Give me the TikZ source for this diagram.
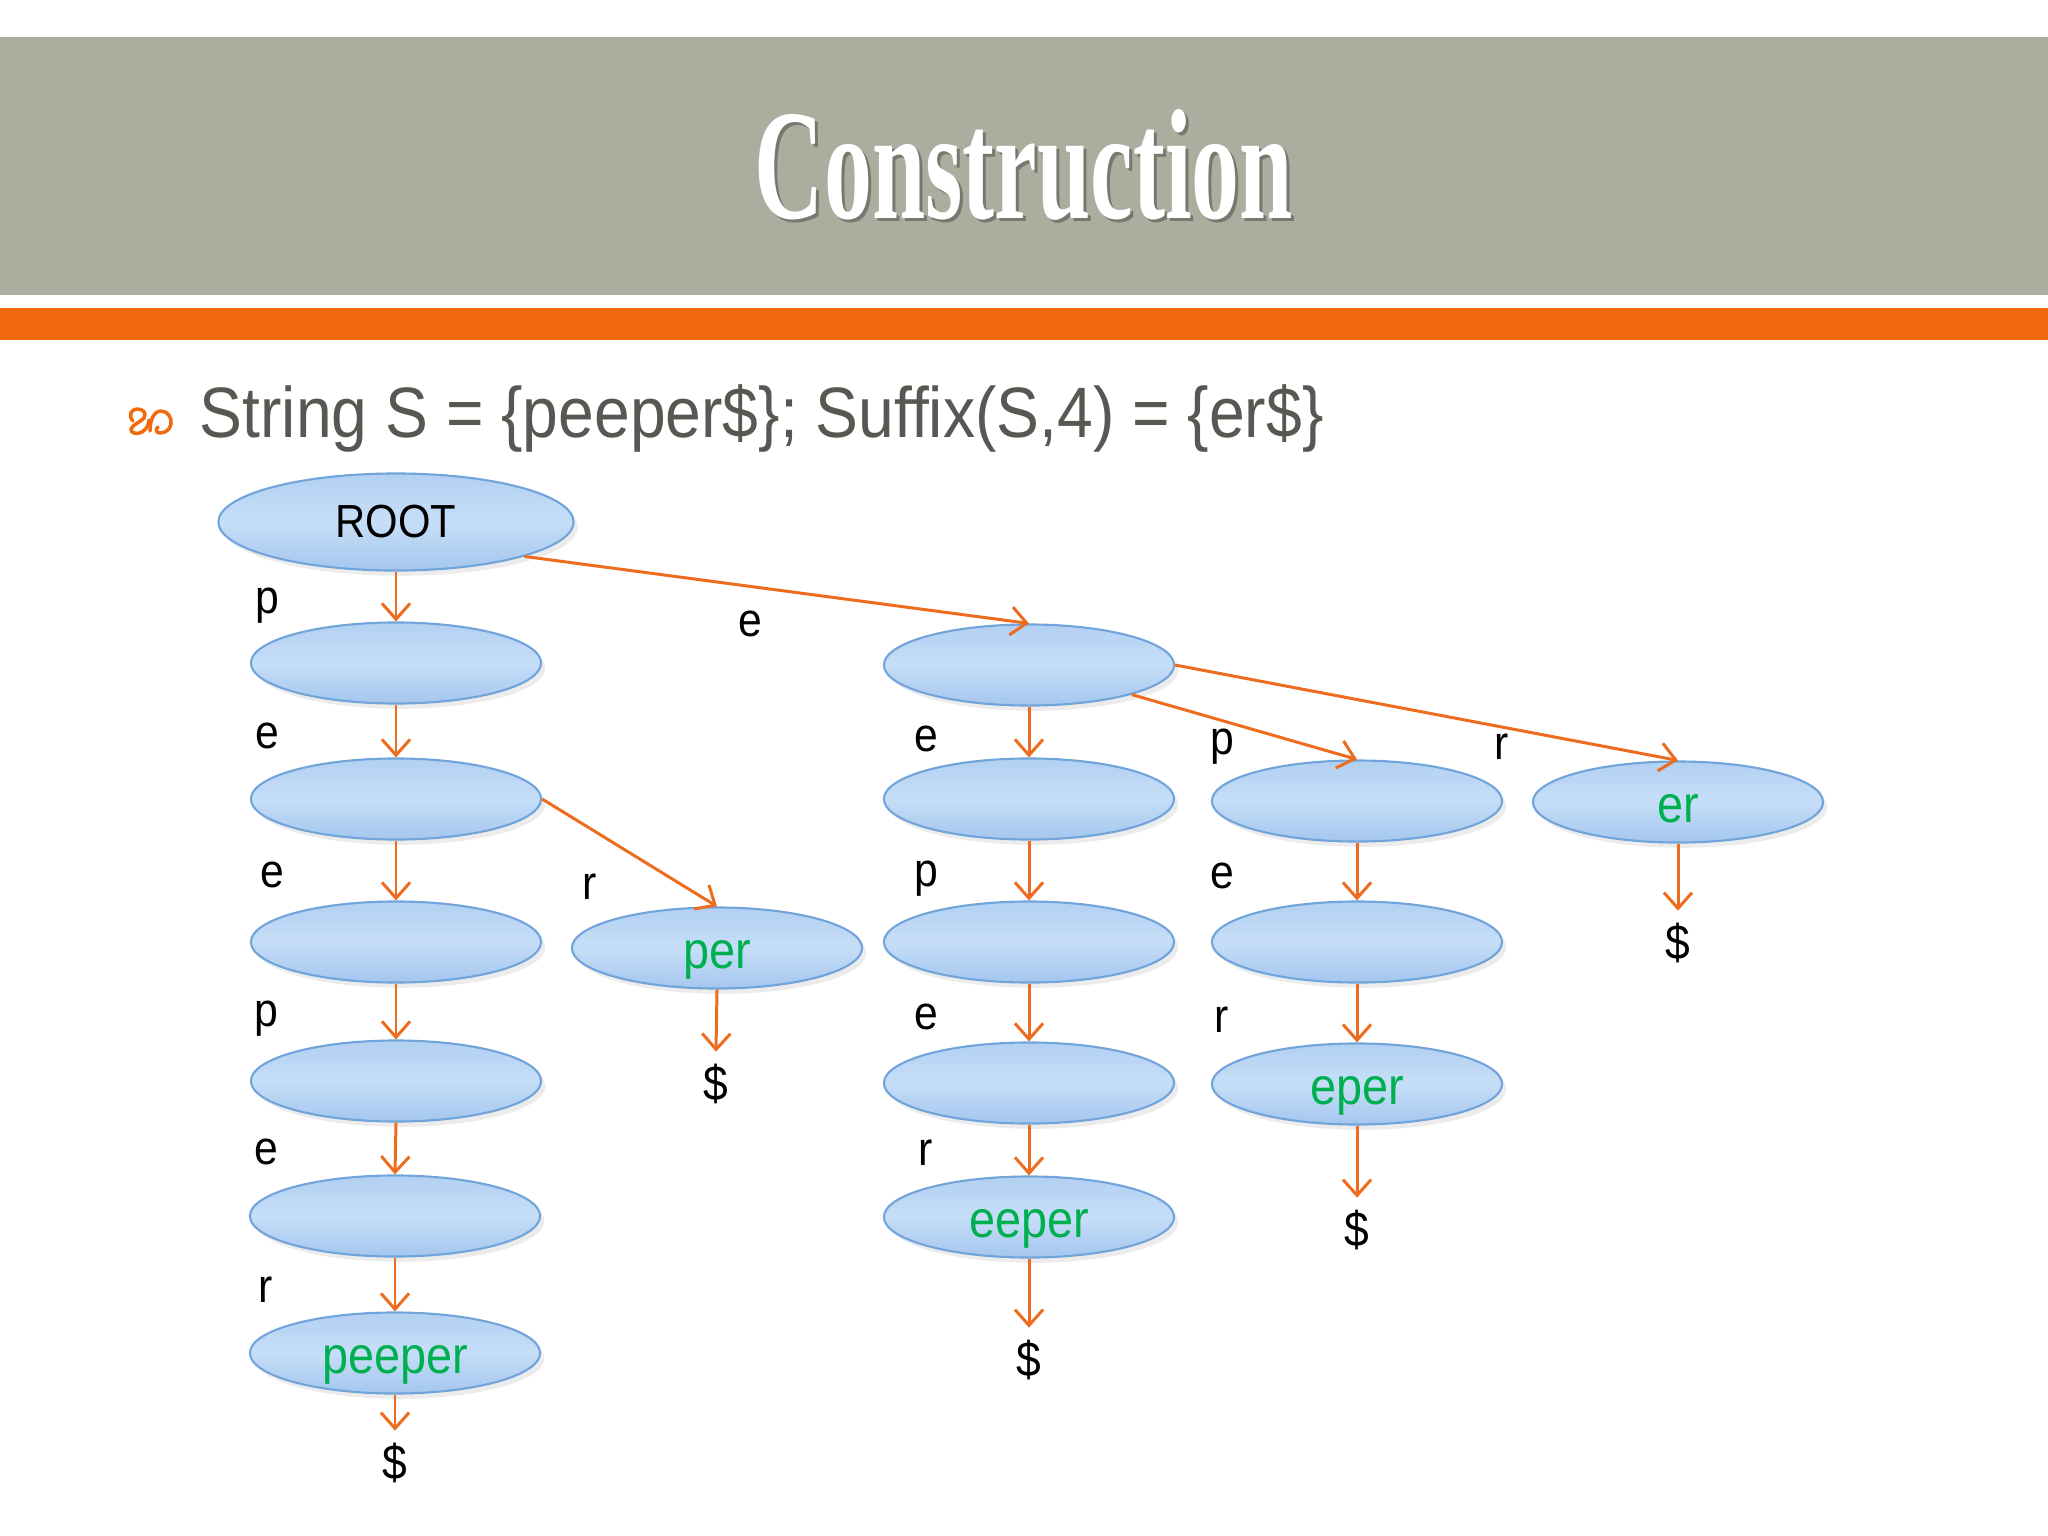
\documentclass[tikz,border=0pt]{standalone}
\usepackage{fontspec}
\setmainfont[FakeStretch=0.9]{Liberation Sans}
\newfontfamily\titlefont[FakeStretch=0.61]{Liberation Serif Bold}
\usetikzlibrary{shapes.geometric, arrows.meta, shadows}
\definecolor{bandgray}{RGB}{171,174,159}
\definecolor{bandorange}{RGB}{242,106,14}
\definecolor{edgeorange}{RGB}{238,108,30}
\definecolor{subgray}{RGB}{88,88,82}
\definecolor{leafgreen}{RGB}{0,176,80}
\definecolor{nodeline}{RGB}{112,164,218}
\definecolor{nodetop}{RGB}{178,208,242}
\definecolor{nodemid}{RGB}{198,222,248}
\definecolor{nodebot}{RGB}{164,198,238}

\begin{document}
\begin{tikzpicture}[x=0.01cm, y=-0.01cm,
    every node/.style={font=\fontsize{13.2}{15}\selectfont},
    vertex/.style={ellipse, draw=nodeline, line width=0.6pt, minimum width=2.9cm, minimum height=0.81cm, inner sep=0pt,
      top color=nodetop, bottom color=nodebot, middle color=nodemid,
      drop shadow={opacity=0.15, shadow xshift=1.2pt, shadow yshift=-1.5pt}},
    leaf/.style={vertex, text=leafgreen, font=\fontsize{14.8}{17}\selectfont, text height=2.2ex, text depth=0pt},
    lbl/.style={text=black, font=\fontsize{13.5}{16}\selectfont},
    term/.style={text=black, font=\fontsize{14}{16}\selectfont},
    bullet/.style={draw=bandorange, line width=1pt, line cap=round, line join=round},
    arrow/.style={-{Straight Barb[length=4.5pt, width=8pt]}, line width=0.85pt, edgeorange}]

  \useasboundingbox (0,0) rectangle (2048,1536);
  \fill[bandgray] (0,37) rectangle (2048,295);
  \fill[bandorange] (0,308) rectangle (2048,340);

  \node[font=\titlefont\fontsize{44.7}{50}\selectfont, text=black, opacity=0.3, anchor=base] (titleshadow) at (1027,221) {Construction};
  \node[font=\titlefont\fontsize{44.7}{50}\selectfont, text=white, anchor=base] (title) at (1024,218) {Construction};

  \draw[bullet] (133,421) .. controls (128,416) and (131,409) .. (137,409) .. controls (143,409) and (147,413) .. (144,418) .. controls (141,422) and (133,424) .. (131,429) .. controls (130,433) and (137,435) .. (142,432) .. controls (147,429) and (149,424) .. (149,420);
  \draw[bullet] (150,431) .. controls (150,420) and (154,411) .. (161,411) .. controls (168,411) and (172,418) .. (171,424) .. controls (170,430) and (165,433) .. (160,433) .. controls (156,433) and (155,429) .. (158,427);
  \node[anchor=base west, text=subgray, font=\fontsize{20.3}{24}\selectfont, inner sep=0pt] (sub) at (199,437) {String S = \{peeper\$\}; Suffix(S,4) = \{er\$\}};

  \node[vertex, minimum width=3.55cm, minimum height=0.97cm] (root) at (396,522) {ROOT};
  \node[vertex] (n1) at (396,663) {};
  \node[vertex] (n2) at (396,799) {};
  \node[vertex] (n3) at (396,942) {};
  \node[vertex] (n4) at (396,1081) {};
  \node[vertex] (n5) at (395,1216) {};
  \node[leaf] (peeper) at (395,1353) {peeper};
  \node[term] (d1) at (395,1463) {\$};

  \node[leaf] (per) at (717,948) {per};
  \node[term] (d2) at (716,1084) {\$};

  \node[vertex] (m0) at (1029,665) {};
  \node[vertex] (m1) at (1029,799) {};
  \node[vertex] (m2) at (1029,942) {};
  \node[vertex] (m3) at (1029,1083) {};
  \node[leaf] (eeper) at (1029,1217) {eeper};
  \node[term] (d3) at (1029,1360) {\$};

  \node[vertex] (q1) at (1357,801) {};
  \node[vertex] (q2) at (1357,942) {};
  \node[leaf] (eper) at (1357,1084) {eper};
  \node[term] (d4) at (1357,1230) {\$};

  \node[leaf] (er) at (1678,802) {er};
  \node[term] (d5) at (1678,943) {\$};

  \node[lbl] (l1) at (267,606) {p};
  \node[lbl] (l2) at (267,736) {e};
  \node[lbl] (l3) at (272,875) {e};
  \node[lbl] (l4) at (266,1019) {p};
  \node[lbl] (l5) at (266,1152) {e};
  \node[lbl] (l6) at (266,1290) {r};
  \node[lbl] (l7) at (590,887) {r};
  \node[lbl] (l8) at (750,624) {e};
  \node[lbl] (l9) at (926,739) {e};
  \node[lbl] (l10) at (926,879) {p};
  \node[lbl] (l11) at (926,1017) {e};
  \node[lbl] (l12) at (926,1153) {r};
  \node[lbl] (l13) at (1222,747) {p};
  \node[lbl] (l14) at (1222,876) {e};
  \node[lbl] (l15) at (1222,1020) {r};
  \node[lbl] (l16) at (1502,747) {r};

  \draw[arrow] (root.south) -- (n1.north);
  \draw[arrow] (n1.south) -- (n2.north);
  \draw[arrow] (n2.south) -- (n3.north);
  \draw[arrow] (n3.south) -- (n4.north);
  \draw[arrow] (n4.south) -- (n5.north);
  \draw[arrow] (n5.south) -- (peeper.north);
  \draw[arrow] (peeper.south) -- (d1.north);
  \draw[arrow] (n2.east) -- (per.north);
  \draw[arrow] (per.south) -- (d2.north);
  \draw[arrow] (root.-15) -- (m0.north);
  \draw[arrow] (m0.south) -- (m1.north);
  \draw[arrow] (m1.south) -- (m2.north);
  \draw[arrow] (m2.south) -- (m3.north);
  \draw[arrow] (m3.south) -- (eeper.north);
  \draw[arrow] (eeper.south) -- (d3.north);
  \draw[arrow] (m0) -- (q1.north);
  \draw[arrow] (q1.south) -- (q2.north);
  \draw[arrow] (q2.south) -- (eper.north);
  \draw[arrow] (eper.south) -- (d4.north);
  \draw[arrow] (m0.east) -- (er.north);
  \draw[arrow] (er.south) -- (d5.north);
\end{tikzpicture}
\end{document}
